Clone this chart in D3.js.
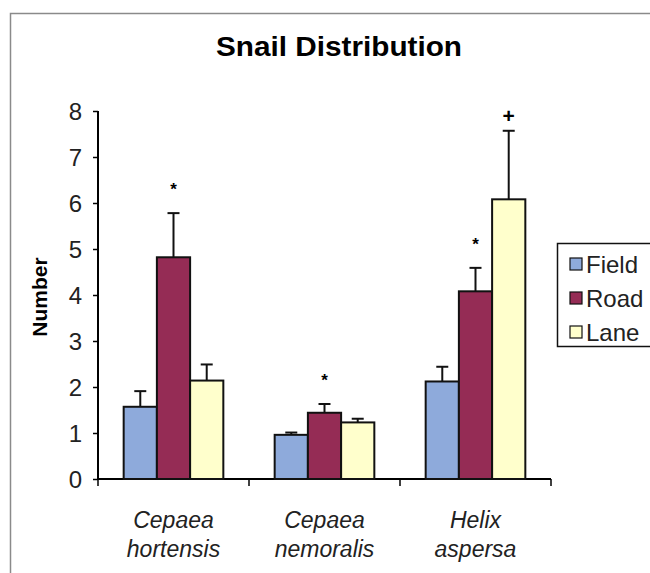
<!DOCTYPE html>
<html>
<head>
  <meta charset="utf-8">
  <script src="https://d3js.org/d3.v7.min.js"></script>
  <style>
    body { margin: 0; background: #fff; }
    svg { display: block; font-family: "Liberation Sans", Arial, sans-serif; }
  </style>
</head>
<body>
<script>
  // data
  var species = [["Cepaea", "hortensis"], ["Cepaea", "nemoralis"], ["Helix", "aspersa"]];
  var sites = ["Field", "Road", "Lane"];
  var colors = ["#8eaadb", "#952c55", "#ffffcc"];
  var field = [1.57, 0.96, 2.12];
  var road = [4.82, 1.44, 4.08];
  var lane = [2.14, 1.23, 6.08];
  var fieldErr = [0.34, 0.05, 0.32];
  var roadErr = [0.96, 0.19, 0.51];
  var laneErr = [0.35, 0.08, 1.49];
  // significance marks: [species index, site index, symbol]
  var marks = [[0, 1, "*"], [1, 1, "*"], [2, 1, "*"], [2, 2, "+"]];
  var yTicks = [0, 1, 2, 3, 4, 5, 6, 7, 8];

  var means = [field, road, lane];
  var errs = [fieldErr, roadErr, laneErr];

  var W = 650, H = 573;
  var svg = d3.select("body").append("svg").attr("width", W).attr("height", H);

  // outer frame (right and bottom cut off in the original)
  svg.append("path")
    .attr("d", "M10.5," + H + "V13.5H" + W)
    .attr("fill", "none").attr("stroke", "#8a8a8a").attr("stroke-width", 1.5);

  svg.append("text")
    .attr("x", 339).attr("y", 56)
    .attr("text-anchor", "middle")
    .style("font-size", "28px").style("font-weight", "bold")
    .attr("textLength", 246).attr("lengthAdjust", "spacingAndGlyphs")
    .text("Snail Distribution");

  var x0 = d3.scaleBand().domain(d3.range(species.length)).range([98, 551]);
  var x1 = d3.scaleBand().domain(d3.range(sites.length))
    .range([x0.bandwidth() * 0.17, x0.bandwidth() * 0.83]);
  var y = d3.scaleLinear().domain([0, 8]).range([479, 111]);

  // y axis
  var yAxis = svg.append("g").attr("transform", "translate(98,0)")
    .call(d3.axisLeft(y).tickValues(yTicks).tickSize(5).tickPadding(11));
  yAxis.attr("font-family", null);
  yAxis.select(".domain").attr("d", "M0,111V479").attr("stroke-width", 2);
  yAxis.selectAll(".tick line").attr("stroke-width", 1.5);
  yAxis.selectAll(".tick text")
    .style("font-family", "'Liberation Sans', Arial, sans-serif")
    .style("font-size", "24px").attr("fill", "#222").attr("dy", "0.36em");

  // x axis with ticks between categories
  var xa = svg.append("g").attr("transform", "translate(0,479)");
  xa.append("line").attr("x1", 98).attr("x2", 551).attr("stroke", "#000").attr("stroke-width", 2);
  xa.selectAll(".sep").data(d3.range(species.length + 1)).enter().append("line")
    .attr("x1", function (d) { return d < species.length ? x0(d) : x0(d - 1) + x0.bandwidth(); })
    .attr("x2", function (d) { return d < species.length ? x0(d) : x0(d - 1) + x0.bandwidth(); })
    .attr("y1", 0).attr("y2", 7)
    .attr("stroke", "#000").attr("stroke-width", 1.5);

  // category labels
  species.forEach(function (s, i) {
    var cx = x0(i) + x0.bandwidth() / 2;
    var t = svg.append("text")
      .attr("text-anchor", "middle")
      .style("font-size", "23px").style("font-style", "italic").attr("fill", "#222");
    t.append("tspan").attr("x", cx).attr("y", 528).text(s[0]);
    t.append("tspan").attr("x", cx).attr("y", 557).text(s[1]);
  });

  svg.append("text")
    .attr("transform", "translate(47,297) rotate(-90)")
    .attr("text-anchor", "middle")
    .style("font-size", "21px").style("font-weight", "bold")
    .text("Number");

  // bars and error bars
  var groups = svg.selectAll(".grp").data(species).enter().append("g")
    .attr("transform", function (d, i) { return "translate(" + x0(i) + ",0)"; });

  groups.each(function (s, i) {
    var g = d3.select(this);
    sites.forEach(function (site, j) {
      var v = means[j][i], e = errs[j][i];
      var cx = x1(j) + x1.bandwidth() / 2;
      g.append("line")
        .attr("x1", cx).attr("x2", cx)
        .attr("y1", y(v)).attr("y2", y(v + e))
        .attr("stroke", "#111").attr("stroke-width", 2);
      g.append("line")
        .attr("x1", cx - 6).attr("x2", cx + 6)
        .attr("y1", y(v + e)).attr("y2", y(v + e))
        .attr("stroke", "#111").attr("stroke-width", 2);
      g.append("rect")
        .attr("x", x1(j)).attr("width", x1.bandwidth())
        .attr("y", y(v)).attr("height", y(0) - y(v))
        .attr("fill", colors[j]).attr("stroke", "#111").attr("stroke-width", 2);
    });
  });

  // significance symbols
  svg.selectAll(".mark").data(marks).enter().append("text")
    .attr("x", function (d) { return x0(d[0]) + x1(d[1]) + x1.bandwidth() / 2; })
    .attr("y", function (d) {
      var top = means[d[1]][d[0]] + errs[d[1]][d[0]];
      return y(top) - (d[2] === "+" ? 8 : 18);
    })
    .attr("text-anchor", "middle")
    .style("font-size", function (d) { return d[2] === "+" ? "21px" : "17px"; })
    .style("font-weight", "bold")
    .text(function (d) { return d[2]; });

  // legend
  var lg = svg.append("g").attr("transform", "translate(557,243)");
  lg.append("rect").attr("x", 0.5).attr("y", 0.5).attr("width", 110).attr("height", 103)
    .attr("fill", "#fff").attr("stroke", "#111").attr("stroke-width", 1.5);
  sites.forEach(function (s, j) {
    var row = lg.append("g").attr("transform", "translate(0," + (21 + j * 34) + ")");
    row.append("rect").attr("x", 13).attr("y", -6).attr("width", 12).attr("height", 12)
      .attr("fill", colors[j]).attr("stroke", "#111").attr("stroke-width", 1.2);
    row.append("text").attr("x", 29).attr("y", 0).attr("dy", "0.36em")
      .style("font-size", "24px").attr("fill", "#222").text(s);
  });
</script>
</body>
</html>
